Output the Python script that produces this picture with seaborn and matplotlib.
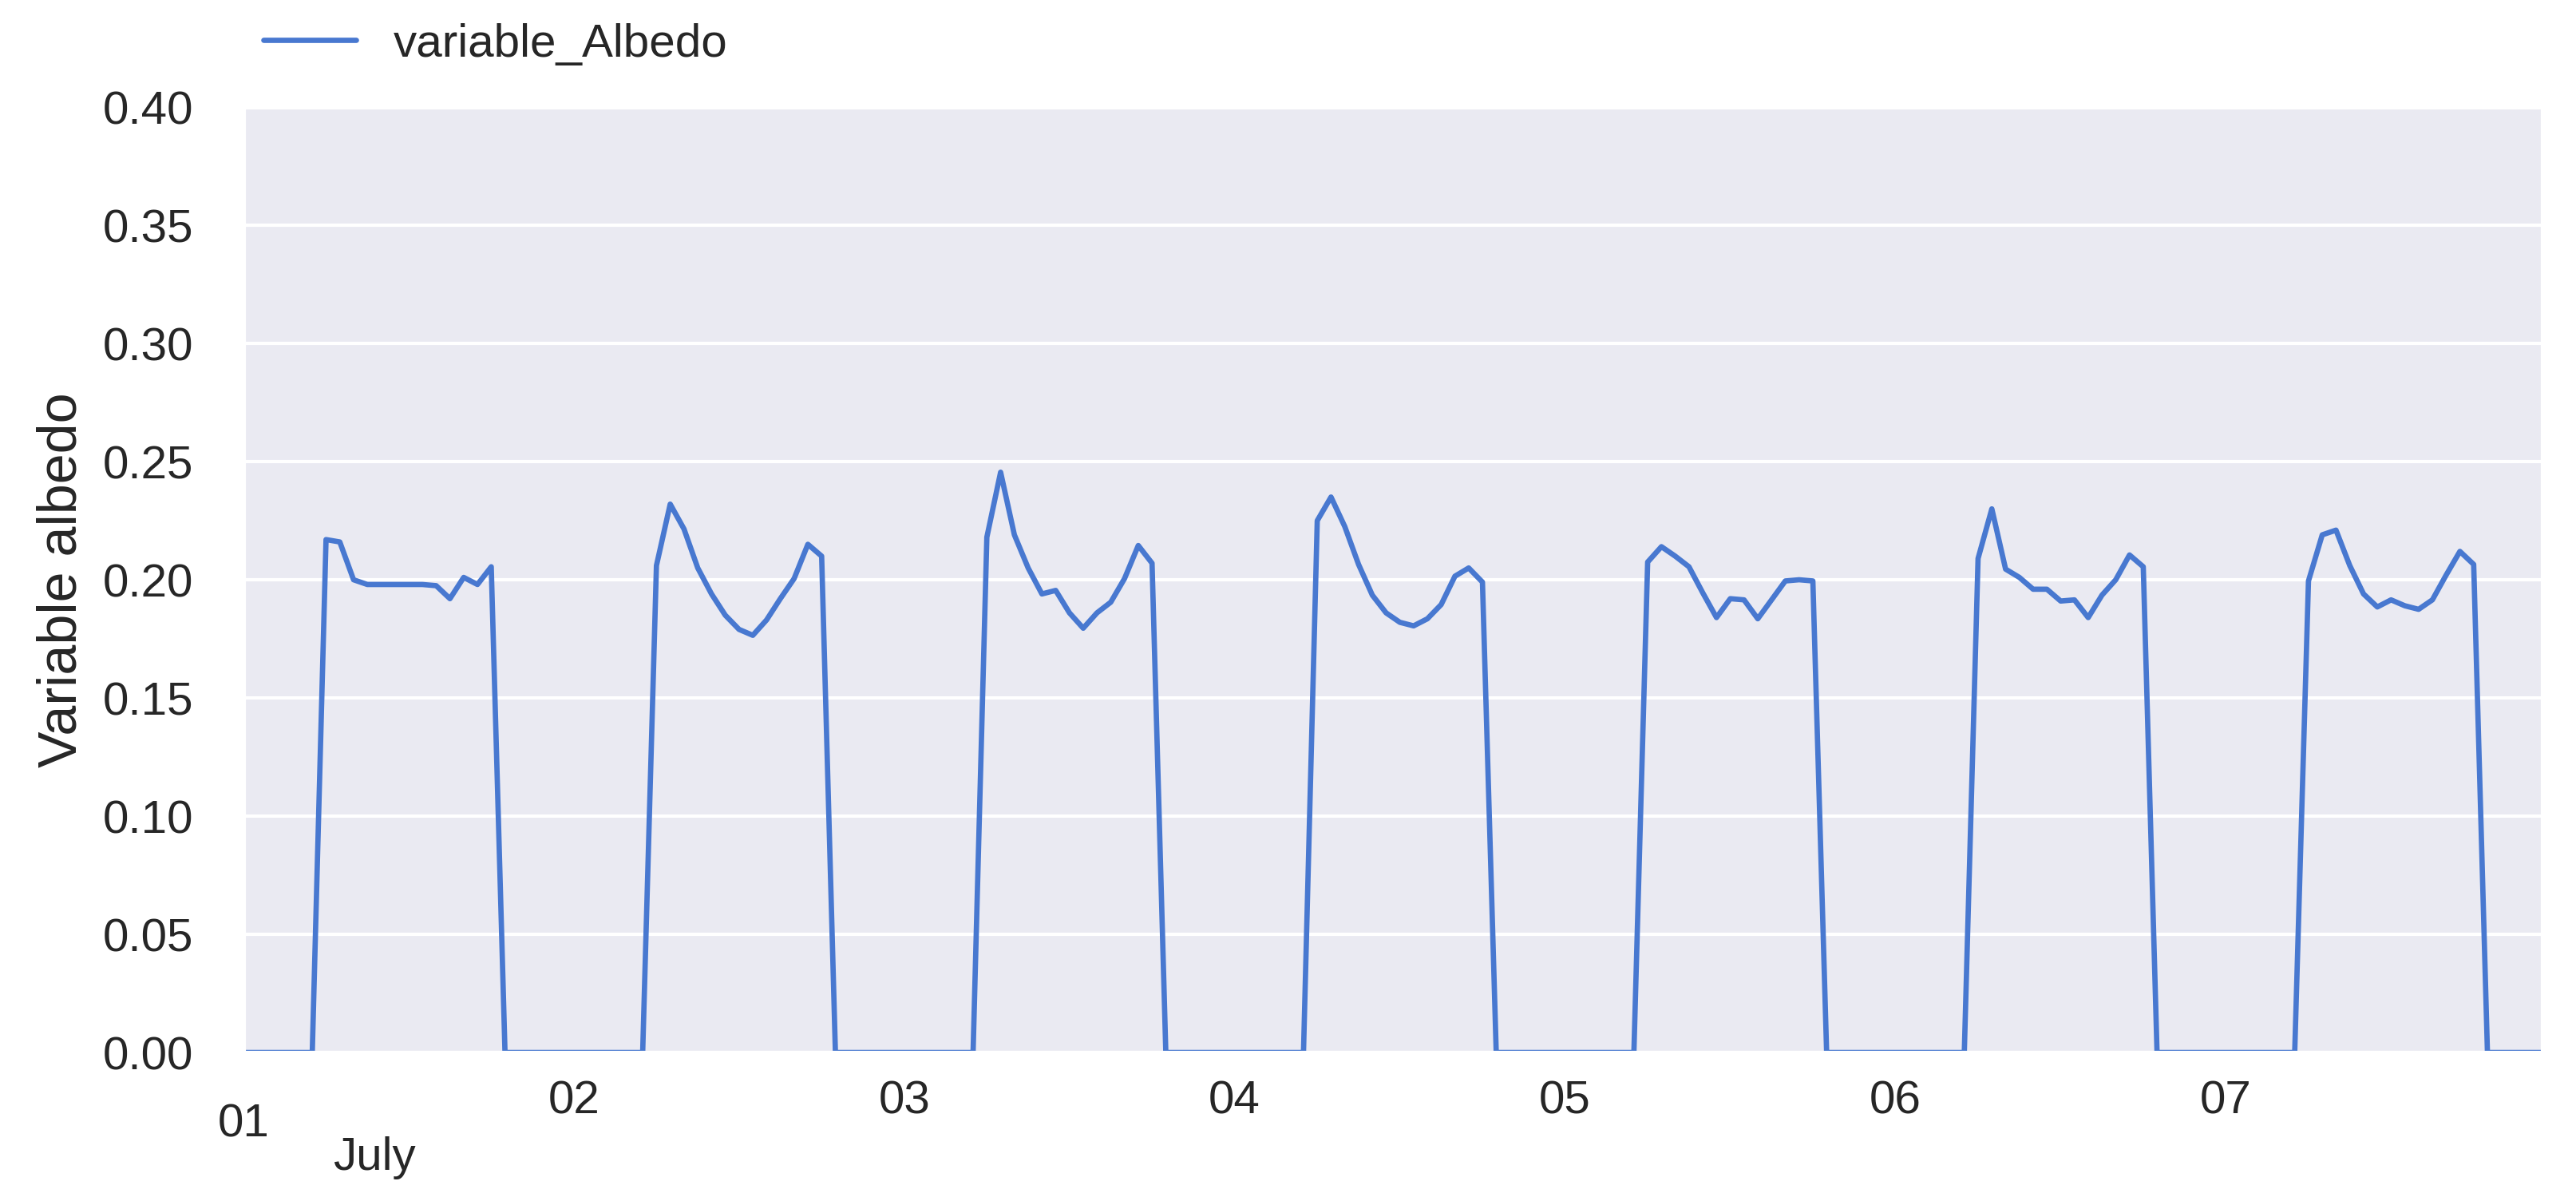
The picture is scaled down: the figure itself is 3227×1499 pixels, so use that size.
import matplotlib
matplotlib.use('Agg')
import matplotlib.pyplot as plt
import matplotlib.dates as mdates
import pandas as pd
import seaborn as sns

#hourly albedo readings, one list per day (hours 00..23)
day01 = [0, 0, 0, 0, 0, 0, 0.217, 0.216, 0.200, 0.198, 0.198, 0.198, 0.198, 0.198, 0.1975, 0.192, 0.201, 0.198, 0.2055, 0, 0, 0, 0, 0]
day02 = [0, 0, 0, 0, 0, 0, 0.206, 0.232, 0.2215, 0.205, 0.194, 0.185, 0.179, 0.1765, 0.183, 0.192, 0.2005, 0.215, 0.210, 0, 0, 0, 0, 0]
day03 = [0, 0, 0, 0, 0, 0, 0.218, 0.2455, 0.219, 0.205, 0.194, 0.1955, 0.186, 0.1795, 0.186, 0.1905, 0.2005, 0.2145, 0.207, 0, 0, 0, 0, 0]
day04 = [0, 0, 0, 0, 0, 0, 0.225, 0.235, 0.2225, 0.2065, 0.1935, 0.186, 0.182, 0.1805, 0.1835, 0.1895, 0.2015, 0.205, 0.199, 0, 0, 0, 0, 0]
day05 = [0, 0, 0, 0, 0, 0, 0.2075, 0.214, 0.210, 0.2055, 0.1945, 0.184, 0.192, 0.1915, 0.1835, 0.1915, 0.1995, 0.200, 0.1995, 0, 0, 0, 0, 0]
day06 = [0, 0, 0, 0, 0, 0, 0.209, 0.230, 0.2045, 0.201, 0.196, 0.196, 0.191, 0.1915, 0.184, 0.1935, 0.200, 0.2105, 0.2055, 0, 0, 0, 0, 0]
day07 = [0, 0, 0, 0, 0, 0, 0.1995, 0.219, 0.221, 0.206, 0.194, 0.1885, 0.1915, 0.189, 0.1875, 0.1915, 0.202, 0.212, 0.2065, 0, 0, 0, 0, 0]

start_date = '2019-07-01'
day_labels = ['01', '02', '03', '04', '05', '06', '07']
month_label = 'July'
series_name = 'variable_Albedo'
y_label = 'Variable albedo'
y_ticks = [0.00, 0.05, 0.10, 0.15, 0.20, 0.25, 0.30, 0.35, 0.40]

#build hourly dataframe
values = day01 + day02 + day03 + day04 + day05 + day06 + day07
times = pd.date_range(start_date, periods=len(values), freq='h')
df = pd.DataFrame({'time': times, series_name: values})

sns.set_theme(style='darkgrid')
plt.rcParams['font.family'] = ['Liberation Sans', 'DejaVu Sans']

fig, ax = plt.subplots(figsize=(3227 / 300, 1499 / 300), dpi=300)
fig.subplots_adjust(left=0.0945, right=0.987, top=0.9106, bottom=0.1207)

sns.lineplot(data=df, x='time', y=series_name, ax=ax, color=sns.color_palette('muted')[0],
             linewidth=1.6, label=series_name)

#axes limits and ticks
ax.set_xlim(times[0], times[-1])
ax.set_ylim(0, 0.40)
ax.set_yticks(y_ticks)
ax.set_yticklabels([f'{t:.2f}' for t in y_ticks])
day_ticks = pd.date_range(start_date, periods=len(day_labels), freq='D')
ax.set_xticks(mdates.date2num(day_ticks))
ax.set_xticklabels(day_labels)
ax.xaxis.grid(False)
ax.tick_params(axis='x', labelsize=14, pad=2.2)
ax.tick_params(axis='y', labelsize=14, pad=9)
ax.xaxis.get_major_ticks()[0].set_pad(9.2) #first day label sits lower

ax.set_xlabel('')
ax.set_ylabel(y_label, fontsize=16.4)
ax.yaxis.set_label_coords(-0.068, 0.5)

#month text below the first day
fig.text(469 / 3227, 1 - 1450 / 1499, month_label, fontsize=14, ha='center', va='center')

ax.legend(loc='center left', bbox_to_anchor=(-0.0097, 1.066), frameon=False, fontsize=14)

fig.savefig('out.png', dpi=300)
